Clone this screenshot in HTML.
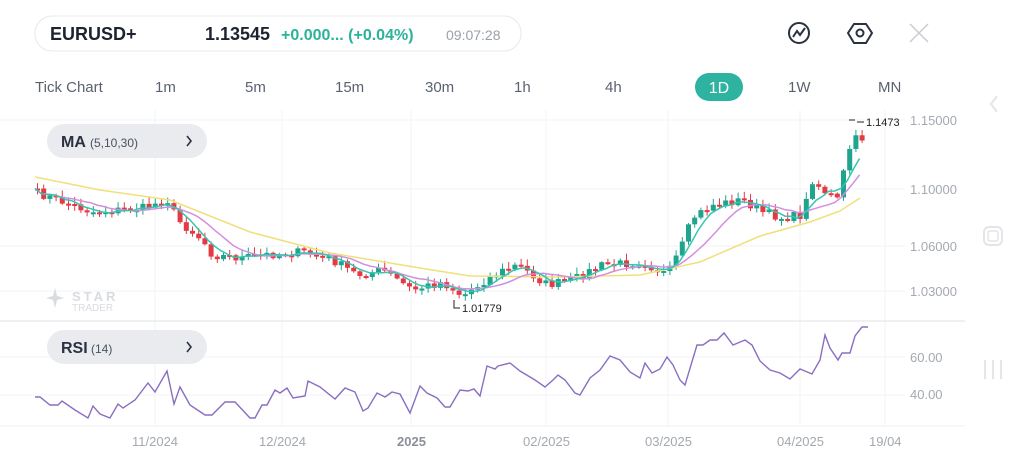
<!DOCTYPE html>
<html><head><meta charset="utf-8"><style>
html,body{margin:0;padding:0;background:#fff;width:1024px;height:473px;overflow:hidden;font-family:"Liberation Sans",sans-serif;}
</style></head><body>
<svg width="1024" height="473" viewBox="0 0 1024 473" xmlns="http://www.w3.org/2000/svg" id="s">
<rect x="35" y="16" width="486" height="35" rx="17" fill="#fff" stroke="#e6e8ec"/>
<text x="50" y="40" font-size="18" font-weight="bold" fill="#1d2330">EURUSD+</text>
<text x="205" y="40" font-size="18" font-weight="bold" fill="#1d2330">1.13545</text>
<text x="281" y="40" font-size="16" fill="#2bb39a" font-weight="bold">+0.000... (+0.04%)</text>
<text x="446" y="40" font-size="14" fill="#9aa0a8">09:07:28</text>
<circle cx="799" cy="33" r="10" fill="none" stroke="#2a3140" stroke-width="2"/>
<path d="M793 37 L797 31 L800 35 L805 28" fill="none" stroke="#2a3140" stroke-width="2"/>
<path d="M854 24 L866 24 L872 33 L866 43 L854 43 L848 33 Z" fill="none" stroke="#2a3140" stroke-width="2"/>
<circle cx="860" cy="33" r="3.5" fill="none" stroke="#2a3140" stroke-width="2"/>
<path d="M910 24 L928 42 M928 24 L910 42" stroke="#c8ccd2" stroke-width="1.5"/>
<g font-size="15" fill="#5a6270">
<text x="35" y="92">Tick Chart</text><text x="155" y="92">1m</text><text x="245" y="92">5m</text>
<text x="335" y="92">15m</text><text x="425" y="92">30m</text><text x="514" y="92">1h</text><text x="605" y="92">4h</text>
<text x="788" y="92">1W</text><text x="878" y="92">MN</text></g>
<rect x="695" y="73" width="48" height="28" rx="14" fill="#2db3a0"/>
<text x="719" y="93" font-size="16" fill="#fff" text-anchor="middle">1D</text>
<path d="M997 96 L991 104 L997 112" fill="none" stroke="#e3e5e8" stroke-width="2"/>
<rect x="984" y="227" width="18" height="18" rx="5" fill="none" stroke="#e3e5e8" stroke-width="2"/>
<rect x="988" y="231" width="10" height="10" rx="2" fill="none" stroke="#e3e5e8" stroke-width="1.5"/>
<g stroke="#e3e5e8" stroke-width="2"><line x1="985" y1="360" x2="985" y2="379"/><line x1="993" y1="360" x2="993" y2="379"/><line x1="1001" y1="360" x2="1001" y2="379"/></g>
<g stroke="#f2f3f5" stroke-width="1" id="grid"></g>
<line x1="0" y1="321" x2="965" y2="321" stroke="#e0e2e6"/>
<line x1="0" y1="426" x2="965" y2="426" stroke="#eef0f2"/>
<g font-size="13" fill="#a4a9b0">
<text x="910" y="125">1.15000</text><text x="910" y="194">1.10000</text><text x="910" y="251">1.06000</text><text x="910" y="296">1.03000</text>
<text x="910" y="362">60.00</text><text x="910" y="399">40.00</text>
<text x="132" y="446">11/2024</text><text x="259" y="446">12/2024</text><text x="397" y="446" font-weight="bold" fill="#8a9098">2025</text>
<text x="523" y="446">02/2025</text><text x="645" y="446">03/2025</text><text x="777" y="446">04/2025</text><text x="869" y="446">19/04</text></g>
<g id="c"></g>
<rect x="47" y="124" width="160" height="34" rx="17" fill="#e9ebee"/>
<text x="61" y="147" font-size="16" font-weight="bold" fill="#2a3140">MA</text><text x="90" y="147" font-size="12" fill="#4a5260">(5,10,30)</text>
<path d="M187 136 L191 141 L187 146" fill="none" stroke="#2a3140" stroke-width="1.6"/>
<rect x="47" y="330" width="160" height="34" rx="17" fill="#e9ebee"/>
<text x="61" y="353" font-size="16" font-weight="bold" fill="#2a3140">RSI</text><text x="91" y="353" font-size="12" fill="#4a5260">(14)</text>
<path d="M187 342 L191 347 L187 352" fill="none" stroke="#2a3140" stroke-width="1.6"/>
<text x="72" y="301" font-size="13" font-weight="bold" fill="#d8dbe0" letter-spacing="3">STAR</text>
<text x="72" y="311" font-size="10" fill="#d8dbe0">TRADER</text>
<path d="M55 288 L57 296 L64 298 L57 300 L55 308 L53 300 L46 298 L53 296Z" fill="#d8dbe0"/>
<path d="M454 300 L454 308 L460 308" fill="none" stroke="#222" stroke-width="1"/>
<text x="462" y="312" font-size="11" fill="#222">1.01779</text>
<path d="M849 120 L855 120 M857 122 L864 122" stroke="#222"/>
<text x="866" y="126" font-size="11" fill="#222">1.1473</text>
<polyline fill="none" stroke="#8a6fc0" stroke-width="1.4" points="35,397 40,397 50,405 58,405 62,401 75,410 88,418 93,406 100,414 110,418 118,404 123,408 135,400 148,383 155,392 167,371 174,404 180,387 190,405 205,415 212,415 225,402 235,402 250,418 255,418 262,405 267,405 275,390 280,393 287,388 293,398 305,396 308,381 320,387 335,399 345,388 355,392 363,411 368,408 377,393 385,397 392,392 400,394 410,413 420,386 427,393 437,398 445,407 450,407 460,390 468,391 474,389 480,396 487,366 495,369 498,366 510,363 520,371 535,380 545,387 553,380 558,375 565,380 575,393 580,395 590,378 600,370 610,356 620,360 630,372 640,378 645,363 652,373 660,369 667,357 673,365 680,380 685,385 697,345 703,345 710,340 717,340 724,333 733,345 745,340 752,345 760,361 770,370 780,373 790,379 800,369 812,374 820,360 825,335 830,348 838,360 842,353 850,353 855,336 862,327 868,327"/>
</svg>
<script>
(function(){
var NS="http://www.w3.org/2000/svg",g=document.getElementById('grid'),c=document.getElementById('c');
function el(p,t,a){var e=document.createElementNS(NS,t);for(var k in a)e.setAttribute(k,a[k]);p.appendChild(e);return e;}
[120,189,246,291,357,395].forEach(function(y){el(g,'line',{x1:0,y1:y,x2:905,y2:y});});
[155,282,411,546,668,800,885].forEach(function(x){el(g,'line',{x1:x,y1:110,x2:x,y2:426});});
var K=[[35,193],[90,212],[140,208],[165,200],[175,220],[200,240],[210,255],[240,258],[260,255],[300,252],[330,260],[355,275],[380,270],[410,290],[440,282],[460,296],[490,275],[515,265],[545,285],[570,280],[600,265],[640,262],[665,275],[680,245],[690,218],[710,205],[740,200],[760,212],[780,218],[800,215],[810,180],[820,190],[835,200],[845,155],[850,140],[860,138]];
function interp(x){for(var i=0;i<K.length-1;i++){if(x<=K[i+1][0]){var t=(x-K[i][0])/(K[i+1][0]-K[i][0]);return K[i][1]+t*(K[i+1][1]-K[i][1]);}}return K[K.length-1][1];}
var seed=7;function r(){seed=(seed*16807)%2147483647;return seed/2147483647;}
var cl=[],xs=[];
for(var x=35;x<=861;x+=6.2){var v=interp(x)+(r()-0.5)*9;xs.push(x);cl.push(v);}
function ma(n){var o=[];for(var i=0;i<cl.length;i++){var s=0,k=0;for(var j=Math.max(0,i-n+1);j<=i;j++){s+=cl[j];k++;}o.push(xs[i]+','+(s/k).toFixed(1));}return o.join(' ');}
var prevC=cl[0];
for(var i=0;i<cl.length;i++){var op=prevC,cc=cl[i],up=cc<op,tp=Math.min(op,cc),bt=Math.max(op,cc);if(bt-tp<2){bt=tp+2;}
var col=up?'#1fa58e':'#e53945',hi=tp-1-r()*6,lo=bt+1+r()*4;
el(c,'line',{x1:xs[i]+2.5,y1:hi,x2:xs[i]+2.5,y2:lo,stroke:col,'stroke-width':1});
el(c,'rect',{x:xs[i],y:tp,width:5,height:bt-tp,fill:col});prevC=cc;}
var y30=[[35,177],[100,190],[170,200],[250,232],[330,253],[420,268],[470,276],[560,277],[640,275],[700,262],[760,236],[810,222],[840,211],[860,198]];
el(c,'polyline',{points:y30.map(function(p){return p.join(',')}).join(' '),fill:'none',stroke:'#f0e07a','stroke-width':1.5});
el(c,'polyline',{points:ma(10),fill:'none',stroke:'#d48ee0','stroke-width':1.5});
el(c,'polyline',{points:ma(5),fill:'none',stroke:'#36c6b0','stroke-width':1.5});
})();
</script>
</body></html>
